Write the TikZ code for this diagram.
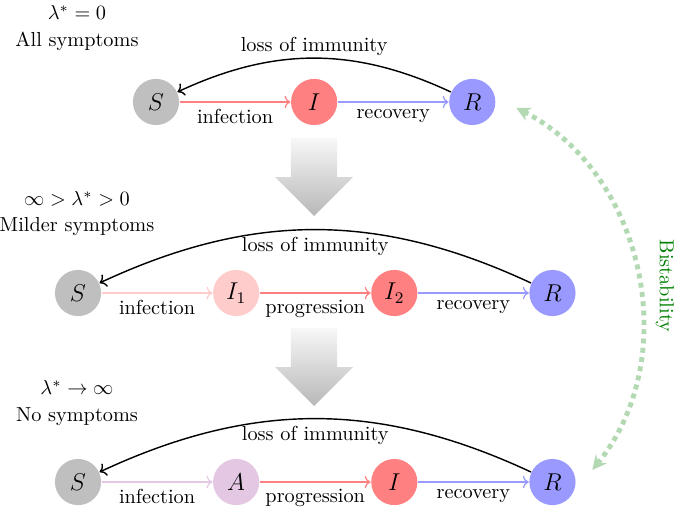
\documentclass[tikz,border=0pt]{standalone}
\usetikzlibrary{arrows,arrows.meta}
\usepackage{amsfonts,amssymb,amsmath}

\begin{document}
\begin{tikzpicture}[node distance=2.74cm,
  semithick,comp node/.style={circle,inner sep=0pt,minimum size=0.8cm,font=\large},
  title node/.style={align=center},
  flow arrow/.style={top color=black!3,bottom color=black!28},
  bistab/.style={green!50!black!30,line width=2.4pt,dash pattern=on 2.4pt off 2.2pt,
    {Stealth[length=7pt,width=7pt]}-{Stealth[length=7pt,width=7pt]}}]

  \useasboundingbox (0,0) rectangle (11.73,8.785);

  % all symptoms
  \node[title node] (t1) at (1.334,8.30) {$\lambda^*=0$\\[1pt]All symptoms};
  \node[comp node,fill=black!25] (11) at (2.703,7.018) {$S$};
  \node[comp node,fill=red!50] (12) [right of=11] {$I$};
  \node[comp node,fill=blue!40] (13) [right of=12] {$R$};

  % milder symptoms
  \node[title node] (t2) at (1.334,5.08) {$\infty>\lambda^*>0$\\[1pt]Milder symptoms};
  \node[comp node,fill=black!25] (21) at (1.352,3.708) {$S$};
  \node[comp node,fill=red!20] (22) [right of=21] {$I_1$};
  \node[comp node,fill=red!50] (23) [right of=22] {$I_2$};
  \node[comp node,fill=blue!40] (24) [right of=23] {$R$};

  % no symptoms
  \node[title node] (t3) at (1.334,1.80) {$\lambda^*\to\infty$\\[1pt]No symptoms};
  \node[comp node,fill=black!25] (31) at (1.352,0.433) {$S$};
  \node[comp node,fill=violet!22] (32) [right of=31] {$A$};
  \node[comp node,fill=red!50] (33) [right of=32] {$I$};
  \node[comp node,fill=blue!40] (34) [right of=33] {$R$};

  % limits
  \foreach \y in {6.394,3.102}
    \shade[flow arrow] (5.041,\y) -- (5.841,\y) -- (5.841,{\y-0.676}) -- (6.117,{\y-0.676})
      -- (5.441,{\y-1.352}) -- (4.765,{\y-0.676}) -- (5.041,{\y-0.676}) -- cycle;

  \draw [->,red!50] (11) to node [below,black]{infection} (12);
  \draw [->,blue!40] (12) to node [below,black]{recovery} (13);
  \draw [->,line width=0.7pt] (13) to [bend right=25] node [above,inner sep=1pt]{loss of immunity} (11);

  \draw [->,red!20] (21) to node [below,black]{infection} (22);
  \draw [->,red!50] (22) to node [below,black]{progression} (23);
  \draw [->,blue!40] (23) to node [below,black]{recovery} (24);
  \draw [->,line width=0.7pt] (24) to [bend right=25] node [below]{loss of immunity} (21);

  \draw [->,violet!22] (31) to node [below,black]{infection} (32);
  \draw [->,red!50] (32) to node [below,black]{progression} (33);
  \draw [->,blue!40] (33) to node [below,black]{recovery} (34);
  \draw [->,line width=0.7pt] (34) to [bend right=25] node [below]{loss of immunity} (31);

  \draw [bistab] ([shift={(0.35,-0.1)}]13.east) to [bend left=51] ([shift={(0.28,0.21)}]34.east);
  \node[rotate=-90,text=green!50!black] (bi) at (11.52,3.83) {Bistability};
\end{tikzpicture}
\end{document}
